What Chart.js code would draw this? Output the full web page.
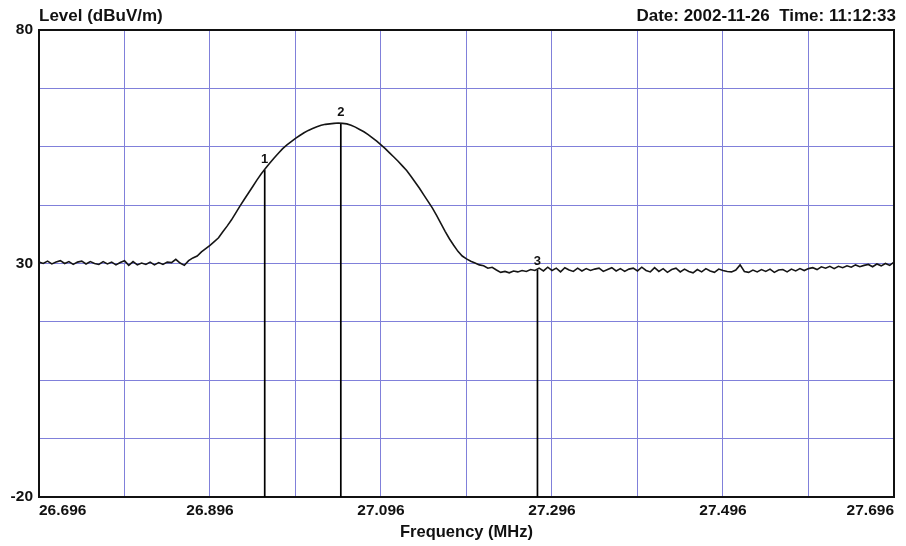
<!DOCTYPE html>
<html>
<head>
<meta charset="utf-8">
<script src="https://cdn.jsdelivr.net/npm/chart.js@4.4.0/dist/chart.umd.min.js"></script>
<style>
  html, body { margin: 0; padding: 0; background: #fff; }
  #wrap { width: 906px; height: 546px; }
</style>
</head>
<body>
<div id="wrap"><canvas id="myChart" width="906" height="546"></canvas></div>
<script>
// Sweep: 26.696 .. 27.696 MHz, one reading every 5 kHz
const startFreq = 26.696;
const stepFreq = 0.005;
const levels = [
    30.3, 30.0, 30.5, 29.9, 30.3, 30.6, 30.0, 30.4, 29.8, 30.3,
    30.5, 29.9, 30.4, 30.0, 29.8, 30.4, 29.9, 30.3, 29.7, 30.2,
    30.6, 29.6, 30.4, 29.7, 30.1, 29.8, 30.3, 29.7, 30.2, 29.8,
    30.3, 30.2, 30.9, 30.1, 29.6, 30.6, 31.2, 31.6, 32.5, 33.2,
    33.9, 34.7, 35.5, 36.8, 38.0, 39.3, 40.8, 42.3, 43.7, 45.1,
    46.5, 47.9, 49.2, 50.4, 51.5, 52.6, 53.6, 54.6, 55.4, 56.1,
    56.8, 57.4, 58.0, 58.5, 58.9, 59.3, 59.6, 59.8, 59.9, 60.0,
    60.1, 60.0, 59.9, 59.6, 59.2, 58.7, 58.2, 57.6, 56.9, 56.2,
    55.4, 54.6, 53.7, 52.8, 51.9, 50.9, 49.9, 48.7, 47.4, 46.1,
    44.7, 43.3, 41.9, 40.3, 38.6, 36.9, 35.3, 33.9, 32.6, 31.6,
    31.0, 30.5, 30.1, 29.7, 29.5, 29.0, 29.2, 28.6, 28.1, 28.3,
    28.0, 28.4, 28.2, 28.5, 28.3, 28.7, 28.5, 29.0, 28.4, 29.2,
    28.5, 29.0, 28.2, 29.1, 28.6, 28.3, 29.0, 28.4, 28.9, 28.5,
    28.8, 29.0, 28.3, 28.7, 29.1, 28.4, 28.9, 28.3, 28.8, 29.0,
    28.4, 29.2, 28.5, 28.2, 29.1, 28.3, 28.9, 28.1, 28.7, 29.0,
    28.2, 28.8, 28.3, 28.0, 28.7, 28.2, 28.9, 28.4, 28.1, 28.8,
    28.5, 28.3, 28.2, 28.6, 29.7, 28.3, 28.1, 28.6, 28.2, 28.7,
    28.3, 28.8, 28.1, 28.6, 28.7, 28.2, 28.8, 28.4, 28.9, 28.5,
    28.9, 29.1, 28.7, 29.3, 29.0, 29.4, 28.9, 29.4, 29.1, 29.5,
    29.2, 29.7, 29.3, 29.6, 29.8, 29.3, 29.9, 29.5, 30.0, 29.6,
    30.3
];

// Markers 1..3
const markerNames = ['1', '2', '3'];
const markerFreqs = [26.960, 27.049, 27.279];
const markerLevels = [50.0, 60.0, 28.7];

// Axis ticks
const xTickValues = [26.696, 26.796, 26.896, 26.996, 27.096, 27.196, 27.296, 27.396, 27.496, 27.596, 27.696];
const xTickLabels = ['26.696', '', '26.896', '', '27.096', '', '27.296', '', '27.496', '', '27.696'];
const yTickValues = [-20, -7.5, 5, 17.5, 30, 42.5, 55, 67.5, 80];
const yTickLabels = ['-20', '', '', '', '30', '', '', '', '80'];

const headerLeft = 'Level (dBuV/m)';
const headerRight = 'Date: 2002-11-26  Time: 11:12:33';

const FONT = "'Liberation Sans', Arial, sans-serif";
const gridColor = 'rgb(128,128,218)';

const trace = levels.map((v, i) => ({ x: startFreq + i * stepFreq, y: v }));

const markerSets = markerFreqs.map((f, i) => ({
    label: 'Marker ' + markerNames[i],
    data: [{ x: f, y: markerLevels[i] }, { x: f, y: -20 }],
    borderColor: '#000',
    borderWidth: 1.7,
    pointRadius: 0
}));

// header texts, frame and marker numbers
const extras = {
    id: 'extras',
    afterDraw(chart) {
        const { ctx, chartArea: a, scales } = chart;
        ctx.save();
        ctx.strokeStyle = '#111';
        ctx.lineWidth = 2;
        ctx.beginPath();
        ctx.moveTo(a.left, a.top);
        ctx.lineTo(a.right, a.top);
        ctx.lineTo(a.right, a.bottom);
        ctx.stroke();

        ctx.fillStyle = '#111';
        ctx.font = 'bold 17px ' + FONT;
        ctx.textBaseline = 'middle';
        ctx.textAlign = 'left';
        ctx.fillText(headerLeft, a.left, 16);
        ctx.textAlign = 'right';
        ctx.fillText(headerRight, 896, 16);

        ctx.font = 'bold 13px ' + FONT;
        ctx.textAlign = 'center';
        markerNames.forEach((n, i) => {
            const px = scales.x.getPixelForValue(markerFreqs[i]);
            const py = scales.y.getPixelForValue(markerLevels[i]);
            ctx.fillText(n, px, py - (i === 2 ? 8 : 11));
        });
        ctx.restore();
    }
};

new Chart(document.getElementById('myChart'), {
    type: 'line',
    data: {
        datasets: [{
            label: 'Level',
            data: trace,
            borderColor: '#151515',
            borderWidth: 1.6,
            pointRadius: 0,
            tension: 0
        }, ...markerSets]
    },
    options: {
        responsive: false,
        animation: false,
        devicePixelRatio: 1,
        layout: { padding: { top: 30, right: 12, bottom: 0, left: 0 } },
        plugins: { legend: { display: false }, tooltip: { enabled: false } },
        scales: {
            x: {
                type: 'linear',
                min: 26.696,
                max: 27.696,
                afterBuildTicks: s => { s.ticks = xTickValues.map(v => ({ value: v })); },
                afterFit: s => { s.height = 49; },
                grid: { color: gridColor, lineWidth: 1, drawTicks: false },
                border: { display: true, color: '#111', width: 2 },
                ticks: {
                    autoSkip: false,
                    maxRotation: 0,
                    align: 'inner',
                    padding: 4,
                    color: '#111',
                    font: { family: FONT, size: 15.5, weight: 'bold' },
                    callback: (v, i) => xTickLabels[i]
                },
                title: {
                    display: true,
                    text: 'Frequency (MHz)',
                    color: '#111',
                    font: { family: FONT, size: 16.5, weight: 'bold' },
                    padding: { top: 0, bottom: 4 }
                }
            },
            y: {
                min: -20,
                max: 80,
                afterBuildTicks: s => { s.ticks = yTickValues.map(v => ({ value: v })); },
                afterFit: s => { s.width = 39; },
                grid: { color: gridColor, lineWidth: 1, drawTicks: false },
                border: { display: true, color: '#111', width: 2 },
                ticks: {
                    autoSkip: false,
                    padding: 6,
                    color: '#111',
                    font: { family: FONT, size: 15.5, weight: 'bold' },
                    callback: (v, i) => yTickLabels[i]
                }
            }
        }
    },
    plugins: [extras]
});
</script>
</body>
</html>
